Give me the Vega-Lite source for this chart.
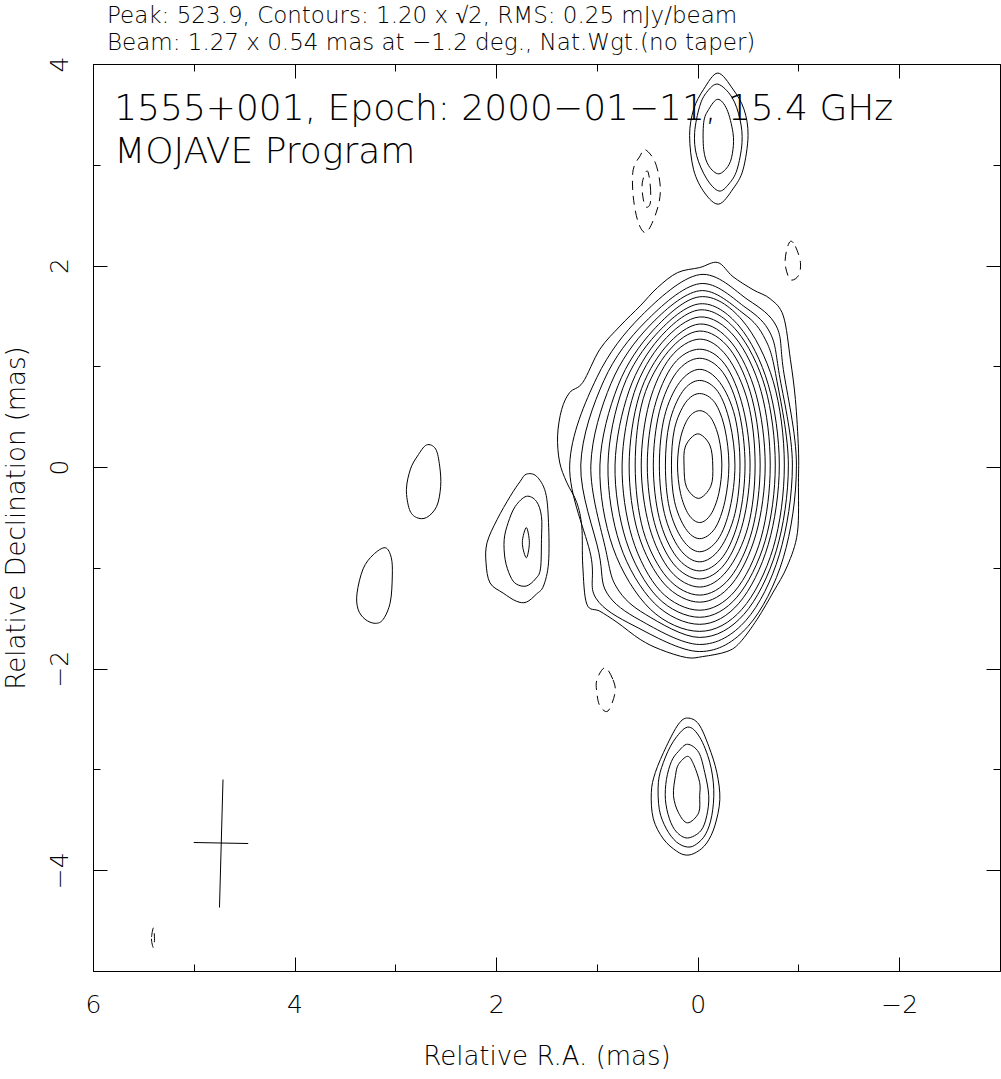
{
"$schema": "https://vega.github.io/schema/vega-lite/v6.json",
"width": 907, "height": 907,
"autosize": {"type": "none"},
"padding": {"left": 93, "top": 64, "right": 1, "bottom": 108},
"background": "white",
"config": {"view": {"stroke": "black", "strokeWidth": 1}, "font": "DejaVu Sans", "axis": {"grid": false, "domain": false, "tickColor": "black", "tickWidth": 1, "labelColor": "black", "titleColor": "black", "labelFlush": false, "labelOverlap": false}},
"title": {"text": ["Peak: 523.9, Contours: 1.20 x √2, RMS: 0.25 mJy/beam", "Beam: 1.27 x 0.54 mas at −1.2 deg., Nat.Wgt.(no taper)"], "anchor": "start", "frame": "group", "dx": 14, "offset": 1, "fontSize": 23, "fontWeight": 200, "lineHeight": 27, "color": "black", "font": "DejaVu Sans"},
"datasets": {
"pos": [
{"c":0,"o":0,"ra":-0.20,"dec":2.03},{"c":0,"o":1,"ra":-0.02,"dec":1.98},{"c":0,"o":2,"ra":0.20,"dec":1.93},{"c":0,"o":3,"ra":0.40,"dec":1.78},{"c":0,"o":4,"ra":0.57,"dec":1.60},{"c":0,"o":5,"ra":0.77,"dec":1.40},{"c":0,"o":6,"ra":0.97,"dec":1.17},{"c":0,"o":7,"ra":1.14,"dec":0.84},{"c":0,"o":8,"ra":1.27,"dec":0.74},{"c":0,"o":9,"ra":1.35,"dec":0.57},{"c":0,"o":10,"ra":1.39,"dec":0.31},{"c":0,"o":11,"ra":1.37,"dec":0.05},{"c":0,"o":12,"ra":1.30,"dec":-0.15},{"c":0,"o":13,"ra":1.20,"dec":-0.35},{"c":0,"o":14,"ra":1.15,"dec":-0.59},{"c":0,"o":15,"ra":1.14,"dec":-0.98},{"c":0,"o":16,"ra":1.10,"dec":-1.36},{"c":0,"o":17,"ra":0.97,"dec":-1.43},{"c":0,"o":18,"ra":0.80,"dec":-1.54},{"c":0,"o":19,"ra":0.57,"dec":-1.71},{"c":0,"o":20,"ra":0.37,"dec":-1.81},{"c":0,"o":21,"ra":0.11,"dec":-1.89},{"c":0,"o":22,"ra":-0.05,"dec":-1.88},{"c":0,"o":23,"ra":-0.29,"dec":-1.83},{"c":0,"o":24,"ra":-0.42,"dec":-1.74},{"c":0,"o":25,"ra":-0.59,"dec":-1.51},{"c":0,"o":26,"ra":-0.75,"dec":-1.24},{"c":0,"o":27,"ra":-0.89,"dec":-0.98},{"c":0,"o":28,"ra":-0.99,"dec":-0.65},{"c":0,"o":29,"ra":-1.00,"dec":-0.15},{"c":0,"o":30,"ra":-1.00,"dec":0.18},{"c":0,"o":31,"ra":-0.97,"dec":0.67},{"c":0,"o":32,"ra":-0.92,"dec":1.07},{"c":0,"o":33,"ra":-0.85,"dec":1.50},{"c":0,"o":34,"ra":-0.72,"dec":1.67},{"c":0,"o":35,"ra":-0.55,"dec":1.76},{"c":0,"o":36,"ra":-0.35,"dec":1.89},
{"c":1,"o":0,"ra":1.27,"dec":0.02},{"c":1,"o":1,"ra":1.00,"dec":0.89},{"c":1,"o":2,"ra":0.56,"dec":1.50},{"c":1,"o":3,"ra":-0.02,"dec":1.91},{"c":1,"o":4,"ra":-0.50,"dec":1.66},{"c":1,"o":5,"ra":-0.78,"dec":1.40},{"c":1,"o":6,"ra":-0.85,"dec":0.97},{"c":1,"o":7,"ra":-0.98,"dec":0.02},{"c":1,"o":8,"ra":-0.85,"dec":-0.90},{"c":1,"o":9,"ra":-0.50,"dec":-1.58},{"c":1,"o":10,"ra":-0.02,"dec":-1.83},{"c":1,"o":11,"ra":0.62,"dec":-1.58},{"c":1,"o":12,"ra":1.01,"dec":-1.30},{"c":1,"o":13,"ra":1.06,"dec":-0.88},
{"c":2,"o":0,"ra":1.16,"dec":0.02},{"c":2,"o":1,"ra":0.93,"dec":0.86},{"c":2,"o":2,"ra":0.52,"dec":1.44},{"c":2,"o":3,"ra":-0.02,"dec":1.82},{"c":2,"o":4,"ra":-0.48,"dec":1.58},{"c":2,"o":5,"ra":-0.72,"dec":1.33},{"c":2,"o":6,"ra":-0.81,"dec":0.92},{"c":2,"o":7,"ra":-0.94,"dec":0.02},{"c":2,"o":8,"ra":-0.81,"dec":-0.87},{"c":2,"o":9,"ra":-0.48,"dec":-1.52},{"c":2,"o":10,"ra":-0.02,"dec":-1.76},{"c":2,"o":11,"ra":0.57,"dec":-1.52},{"c":2,"o":12,"ra":0.90,"dec":-1.25},{"c":2,"o":13,"ra":0.98,"dec":-0.85},
{"c":3,"o":0,"ra":1.06,"dec":0.02},{"c":3,"o":1,"ra":0.86,"dec":0.83},{"c":3,"o":2,"ra":0.48,"dec":1.40},{"c":3,"o":3,"ra":-0.02,"dec":1.75},{"c":3,"o":4,"ra":-0.46,"dec":1.52},{"c":3,"o":5,"ra":-0.67,"dec":1.27},{"c":3,"o":6,"ra":-0.78,"dec":0.89},{"c":3,"o":7,"ra":-0.90,"dec":0.02},{"c":3,"o":8,"ra":-0.78,"dec":-0.83},{"c":3,"o":9,"ra":-0.46,"dec":-1.46},{"c":3,"o":10,"ra":-0.02,"dec":-1.69},{"c":3,"o":11,"ra":0.52,"dec":-1.46},{"c":3,"o":12,"ra":0.80,"dec":-1.20},{"c":3,"o":13,"ra":0.91,"dec":-0.83},
{"c":4,"o":0,"ra":0.97,"dec":0.02},{"c":4,"o":1,"ra":0.79,"dec":0.81},{"c":4,"o":2,"ra":0.44,"dec":1.36},{"c":4,"o":3,"ra":-0.02,"dec":1.69},{"c":4,"o":4,"ra":-0.44,"dec":1.46},{"c":4,"o":5,"ra":-0.75,"dec":0.85},{"c":4,"o":6,"ra":-0.86,"dec":0.02},{"c":4,"o":7,"ra":-0.75,"dec":-0.80},{"c":4,"o":8,"ra":-0.44,"dec":-1.41},{"c":4,"o":9,"ra":-0.02,"dec":-1.63},{"c":4,"o":10,"ra":0.47,"dec":-1.41},{"c":4,"o":11,"ra":0.84,"dec":-0.80},
{"c":5,"o":0,"ra":0.89,"dec":0.02},{"c":5,"o":1,"ra":0.74,"dec":0.79},{"c":5,"o":2,"ra":0.41,"dec":1.32},{"c":5,"o":3,"ra":-0.02,"dec":1.62},{"c":5,"o":4,"ra":-0.41,"dec":1.40},{"c":5,"o":5,"ra":-0.70,"dec":0.82},{"c":5,"o":6,"ra":-0.81,"dec":0.02},{"c":5,"o":7,"ra":-0.70,"dec":-0.77},{"c":5,"o":8,"ra":-0.41,"dec":-1.35},{"c":5,"o":9,"ra":-0.02,"dec":-1.56},{"c":5,"o":10,"ra":0.43,"dec":-1.35},{"c":5,"o":11,"ra":0.77,"dec":-0.77},
{"c":6,"o":0,"ra":0.82,"dec":0.02},{"c":6,"o":1,"ra":0.68,"dec":0.76},{"c":6,"o":2,"ra":0.38,"dec":1.28},{"c":6,"o":3,"ra":-0.02,"dec":1.56},{"c":6,"o":4,"ra":-0.39,"dec":1.35},{"c":6,"o":5,"ra":-0.67,"dec":0.79},{"c":6,"o":6,"ra":-0.77,"dec":0.02},{"c":6,"o":7,"ra":-0.67,"dec":-0.73},{"c":6,"o":8,"ra":-0.39,"dec":-1.29},{"c":6,"o":9,"ra":-0.02,"dec":-1.49},{"c":6,"o":10,"ra":0.40,"dec":-1.29},{"c":6,"o":11,"ra":0.71,"dec":-0.73},
{"c":7,"o":0,"ra":0.75,"dec":0.02},{"c":7,"o":1,"ra":0.63,"dec":0.74},{"c":7,"o":2,"ra":0.35,"dec":1.24},{"c":7,"o":3,"ra":-0.02,"dec":1.49},{"c":7,"o":4,"ra":-0.37,"dec":1.29},{"c":7,"o":5,"ra":-0.63,"dec":0.75},{"c":7,"o":6,"ra":-0.72,"dec":0.02},{"c":7,"o":7,"ra":-0.63,"dec":-0.70},{"c":7,"o":8,"ra":-0.37,"dec":-1.23},{"c":7,"o":9,"ra":-0.02,"dec":-1.42},{"c":7,"o":10,"ra":0.37,"dec":-1.23},{"c":7,"o":11,"ra":0.65,"dec":-0.70},
{"c":8,"o":0,"ra":0.68,"dec":0.02},{"c":8,"o":1,"ra":0.58,"dec":0.71},{"c":8,"o":2,"ra":0.32,"dec":1.19},{"c":8,"o":3,"ra":-0.02,"dec":1.42},{"c":8,"o":4,"ra":-0.34,"dec":1.23},{"c":8,"o":5,"ra":-0.58,"dec":0.72},{"c":8,"o":6,"ra":-0.67,"dec":0.02},{"c":8,"o":7,"ra":-0.58,"dec":-0.66},{"c":8,"o":8,"ra":-0.34,"dec":-1.16},{"c":8,"o":9,"ra":-0.02,"dec":-1.34},{"c":8,"o":10,"ra":0.33,"dec":-1.16},{"c":8,"o":11,"ra":0.59,"dec":-0.66},
{"c":9,"o":0,"ra":0.62,"dec":0.02},{"c":9,"o":1,"ra":0.54,"dec":0.68},{"c":9,"o":2,"ra":0.29,"dec":1.15},{"c":9,"o":3,"ra":-0.02,"dec":1.35},{"c":9,"o":4,"ra":-0.32,"dec":1.17},{"c":9,"o":5,"ra":-0.54,"dec":0.68},{"c":9,"o":6,"ra":-0.62,"dec":0.02},{"c":9,"o":7,"ra":-0.54,"dec":-0.63},{"c":9,"o":8,"ra":-0.32,"dec":-1.10},{"c":9,"o":9,"ra":-0.02,"dec":-1.27},{"c":9,"o":10,"ra":0.30,"dec":-1.10},{"c":9,"o":11,"ra":0.54,"dec":-0.63},
{"c":10,"o":0,"ra":0.56,"dec":0.02},{"c":10,"o":1,"ra":0.48,"dec":0.64},{"c":10,"o":2,"ra":0.27,"dec":1.09},{"c":10,"o":3,"ra":-0.02,"dec":1.27},{"c":10,"o":4,"ra":-0.29,"dec":1.10},{"c":10,"o":5,"ra":-0.50,"dec":0.64},{"c":10,"o":6,"ra":-0.57,"dec":0.02},{"c":10,"o":7,"ra":-0.50,"dec":-0.59},{"c":10,"o":8,"ra":-0.29,"dec":-1.03},{"c":10,"o":9,"ra":-0.02,"dec":-1.19},{"c":10,"o":10,"ra":0.27,"dec":-1.03},{"c":10,"o":11,"ra":0.48,"dec":-0.59},
{"c":11,"o":0,"ra":0.50,"dec":0.02},{"c":11,"o":1,"ra":0.43,"dec":0.59},{"c":11,"o":2,"ra":0.24,"dec":1.02},{"c":11,"o":3,"ra":-0.02,"dec":1.17},{"c":11,"o":4,"ra":-0.27,"dec":1.02},{"c":11,"o":5,"ra":-0.45,"dec":0.59},{"c":11,"o":6,"ra":-0.52,"dec":0.02},{"c":11,"o":7,"ra":-0.45,"dec":-0.55},{"c":11,"o":8,"ra":-0.27,"dec":-0.96},{"c":11,"o":9,"ra":-0.02,"dec":-1.11},{"c":11,"o":10,"ra":0.24,"dec":-0.96},{"c":11,"o":11,"ra":0.43,"dec":-0.55},
{"c":12,"o":0,"ra":0.44,"dec":0.02},{"c":12,"o":1,"ra":0.38,"dec":0.55},{"c":12,"o":2,"ra":0.21,"dec":0.94},{"c":12,"o":3,"ra":-0.02,"dec":1.08},{"c":12,"o":4,"ra":-0.25,"dec":0.94},{"c":12,"o":5,"ra":-0.41,"dec":0.55},{"c":12,"o":6,"ra":-0.47,"dec":0.02},{"c":12,"o":7,"ra":-0.41,"dec":-0.51},{"c":12,"o":8,"ra":-0.25,"dec":-0.89},{"c":12,"o":9,"ra":-0.02,"dec":-1.03},{"c":12,"o":10,"ra":0.21,"dec":-0.89},{"c":12,"o":11,"ra":0.38,"dec":-0.51},
{"c":13,"o":0,"ra":0.38,"dec":0.02},{"c":13,"o":1,"ra":0.33,"dec":0.50},{"c":13,"o":2,"ra":0.18,"dec":0.84},{"c":13,"o":3,"ra":-0.02,"dec":0.97},{"c":13,"o":4,"ra":-0.22,"dec":0.84},{"c":13,"o":5,"ra":-0.37,"dec":0.50},{"c":13,"o":6,"ra":-0.42,"dec":0.02},{"c":13,"o":7,"ra":-0.37,"dec":-0.46},{"c":13,"o":8,"ra":-0.22,"dec":-0.81},{"c":13,"o":9,"ra":-0.02,"dec":-0.94},{"c":13,"o":10,"ra":0.18,"dec":-0.81},{"c":13,"o":11,"ra":0.33,"dec":-0.46},
{"c":14,"o":0,"ra":0.32,"dec":0.02},{"c":14,"o":1,"ra":0.28,"dec":0.44},{"c":14,"o":2,"ra":0.15,"dec":0.75},{"c":14,"o":3,"ra":-0.02,"dec":0.86},{"c":14,"o":4,"ra":-0.20,"dec":0.75},{"c":14,"o":5,"ra":-0.32,"dec":0.44},{"c":14,"o":6,"ra":-0.37,"dec":0.02},{"c":14,"o":7,"ra":-0.32,"dec":-0.41},{"c":14,"o":8,"ra":-0.20,"dec":-0.72},{"c":14,"o":9,"ra":-0.02,"dec":-0.84},{"c":14,"o":10,"ra":0.15,"dec":-0.72},{"c":14,"o":11,"ra":0.28,"dec":-0.41},
{"c":15,"o":0,"ra":0.26,"dec":0.02},{"c":15,"o":1,"ra":0.23,"dec":0.38},{"c":15,"o":2,"ra":0.12,"dec":0.64},{"c":15,"o":3,"ra":-0.02,"dec":0.73},{"c":15,"o":4,"ra":-0.17,"dec":0.64},{"c":15,"o":5,"ra":-0.27,"dec":0.38},{"c":15,"o":6,"ra":-0.31,"dec":0.02},{"c":15,"o":7,"ra":-0.27,"dec":-0.34},{"c":15,"o":8,"ra":-0.17,"dec":-0.61},{"c":15,"o":9,"ra":-0.02,"dec":-0.71},{"c":15,"o":10,"ra":0.12,"dec":-0.61},{"c":15,"o":11,"ra":0.23,"dec":-0.34},
{"c":16,"o":0,"ra":0.20,"dec":0.02},{"c":16,"o":1,"ra":0.17,"dec":0.29},{"c":16,"o":2,"ra":0.09,"dec":0.49},{"c":16,"o":3,"ra":-0.02,"dec":0.56},{"c":16,"o":4,"ra":-0.13,"dec":0.49},{"c":16,"o":5,"ra":-0.21,"dec":0.29},{"c":16,"o":6,"ra":-0.24,"dec":0.02},{"c":16,"o":7,"ra":-0.21,"dec":-0.26},{"c":16,"o":8,"ra":-0.13,"dec":-0.47},{"c":16,"o":9,"ra":-0.02,"dec":-0.55},{"c":16,"o":10,"ra":0.09,"dec":-0.47},{"c":16,"o":11,"ra":0.17,"dec":-0.26},
{"c":17,"o":0,"ra":0.00,"dec":0.33},{"c":17,"o":1,"ra":0.12,"dec":0.21},{"c":17,"o":2,"ra":0.135,"dec":0.01},{"c":17,"o":3,"ra":0.11,"dec":-0.20},{"c":17,"o":4,"ra":-0.01,"dec":-0.31},{"c":17,"o":5,"ra":-0.13,"dec":-0.19},{"c":17,"o":6,"ra":-0.15,"dec":0.01},{"c":17,"o":7,"ra":-0.12,"dec":0.22},
{"c":20,"o":0,"ra":1.70,"dec":-0.07},{"c":20,"o":1,"ra":1.60,"dec":-0.09},{"c":20,"o":2,"ra":1.51,"dec":-0.25},{"c":20,"o":3,"ra":1.48,"dec":-0.55},{"c":20,"o":4,"ra":1.48,"dec":-0.95},{"c":20,"o":5,"ra":1.53,"dec":-1.18},{"c":20,"o":6,"ra":1.60,"dec":-1.26},{"c":20,"o":7,"ra":1.70,"dec":-1.34},{"c":20,"o":8,"ra":1.80,"dec":-1.33},{"c":20,"o":9,"ra":1.93,"dec":-1.25},{"c":20,"o":10,"ra":2.06,"dec":-1.15},{"c":20,"o":11,"ra":2.10,"dec":-0.95},{"c":20,"o":12,"ra":2.09,"dec":-0.75},{"c":20,"o":13,"ra":1.99,"dec":-0.52},{"c":20,"o":14,"ra":1.86,"dec":-0.29},{"c":20,"o":15,"ra":1.76,"dec":-0.14},
{"c":21,"o":0,"ra":1.70,"dec":-0.29},{"c":21,"o":1,"ra":1.60,"dec":-0.34},{"c":21,"o":2,"ra":1.55,"dec":-0.49},{"c":21,"o":3,"ra":1.55,"dec":-0.72},{"c":21,"o":4,"ra":1.56,"dec":-1.01},{"c":21,"o":5,"ra":1.61,"dec":-1.11},{"c":21,"o":6,"ra":1.70,"dec":-1.18},{"c":21,"o":7,"ra":1.80,"dec":-1.16},{"c":21,"o":8,"ra":1.86,"dec":-1.08},{"c":21,"o":9,"ra":1.91,"dec":-0.92},{"c":21,"o":10,"ra":1.92,"dec":-0.72},{"c":21,"o":11,"ra":1.88,"dec":-0.55},{"c":21,"o":12,"ra":1.81,"dec":-0.39},
{"c":22,"o":0,"ra":1.70,"dec":-0.60},{"c":22,"o":1,"ra":1.67,"dec":-0.75},{"c":22,"o":2,"ra":1.70,"dec":-0.90},{"c":22,"o":3,"ra":1.74,"dec":-0.75},
{"c":23,"o":0,"ra":2.69,"dec":0.22},{"c":23,"o":1,"ra":2.60,"dec":0.18},{"c":23,"o":2,"ra":2.56,"dec":0.01},{"c":23,"o":3,"ra":2.55,"dec":-0.19},{"c":23,"o":4,"ra":2.59,"dec":-0.39},{"c":23,"o":5,"ra":2.69,"dec":-0.50},{"c":23,"o":6,"ra":2.79,"dec":-0.50},{"c":23,"o":7,"ra":2.86,"dec":-0.42},{"c":23,"o":8,"ra":2.89,"dec":-0.22},{"c":23,"o":9,"ra":2.85,"dec":-0.02},{"c":23,"o":10,"ra":2.78,"dec":0.11},
{"c":24,"o":0,"ra":3.10,"dec":-0.80},{"c":24,"o":1,"ra":3.04,"dec":-0.90},{"c":24,"o":2,"ra":3.03,"dec":-1.08},{"c":24,"o":3,"ra":3.05,"dec":-1.34},{"c":24,"o":4,"ra":3.12,"dec":-1.51},{"c":24,"o":5,"ra":3.20,"dec":-1.55},{"c":24,"o":6,"ra":3.30,"dec":-1.51},{"c":24,"o":7,"ra":3.37,"dec":-1.41},{"c":24,"o":8,"ra":3.38,"dec":-1.25},{"c":24,"o":9,"ra":3.32,"dec":-1.01},{"c":24,"o":10,"ra":3.22,"dec":-0.87},
{"c":25,"o":0,"ra":-0.20,"dec":3.91},{"c":25,"o":1,"ra":-0.35,"dec":3.75},{"c":25,"o":2,"ra":-0.46,"dec":3.55},{"c":25,"o":3,"ra":-0.50,"dec":3.29},{"c":25,"o":4,"ra":-0.45,"dec":2.95},{"c":25,"o":5,"ra":-0.35,"dec":2.76},{"c":25,"o":6,"ra":-0.21,"dec":2.61},{"c":25,"o":7,"ra":-0.07,"dec":2.72},{"c":25,"o":8,"ra":0.04,"dec":2.95},{"c":25,"o":9,"ra":0.08,"dec":3.29},{"c":25,"o":10,"ra":0.04,"dec":3.55},{"c":25,"o":11,"ra":-0.06,"dec":3.75},
{"c":26,"o":0,"ra":-0.20,"dec":3.80},{"c":26,"o":1,"ra":-0.34,"dec":3.67},{"c":26,"o":2,"ra":-0.42,"dec":3.45},{"c":26,"o":3,"ra":-0.44,"dec":3.22},{"c":26,"o":4,"ra":-0.39,"dec":2.95},{"c":26,"o":5,"ra":-0.31,"dec":2.81},{"c":26,"o":6,"ra":-0.21,"dec":2.74},{"c":26,"o":7,"ra":-0.09,"dec":2.86},{"c":26,"o":8,"ra":0.01,"dec":3.09},{"c":26,"o":9,"ra":0.03,"dec":3.32},{"c":26,"o":10,"ra":-0.02,"dec":3.58},{"c":26,"o":11,"ra":-0.09,"dec":3.72},
{"c":27,"o":0,"ra":-0.20,"dec":3.65},{"c":27,"o":1,"ra":-0.29,"dec":3.55},{"c":27,"o":2,"ra":-0.35,"dec":3.32},{"c":27,"o":3,"ra":-0.35,"dec":3.15},{"c":27,"o":4,"ra":-0.31,"dec":3.00},{"c":27,"o":5,"ra":-0.21,"dec":2.91},{"c":27,"o":6,"ra":-0.11,"dec":2.99},{"c":27,"o":7,"ra":-0.06,"dec":3.15},{"c":27,"o":8,"ra":-0.06,"dec":3.42},{"c":27,"o":9,"ra":-0.11,"dec":3.55},
{"c":28,"o":0,"ra":0.10,"dec":-2.49},{"c":28,"o":1,"ra":-0.01,"dec":-2.55},{"c":28,"o":2,"ra":-0.11,"dec":-2.77},{"c":28,"o":3,"ra":-0.19,"dec":-3.03},{"c":28,"o":4,"ra":-0.22,"dec":-3.30},{"c":28,"o":5,"ra":-0.17,"dec":-3.56},{"c":28,"o":6,"ra":-0.09,"dec":-3.73},{"c":28,"o":7,"ra":0.01,"dec":-3.82},{"c":28,"o":8,"ra":0.11,"dec":-3.85},{"c":28,"o":9,"ra":0.21,"dec":-3.81},{"c":28,"o":10,"ra":0.34,"dec":-3.69},{"c":28,"o":11,"ra":0.44,"dec":-3.49},{"c":28,"o":12,"ra":0.46,"dec":-3.23},{"c":28,"o":13,"ra":0.42,"dec":-3.03},{"c":28,"o":14,"ra":0.31,"dec":-2.77},{"c":28,"o":15,"ra":0.19,"dec":-2.55},
{"c":29,"o":0,"ra":0.10,"dec":-2.58},{"c":29,"o":1,"ra":-0.02,"dec":-2.68},{"c":29,"o":2,"ra":-0.12,"dec":-2.93},{"c":29,"o":3,"ra":-0.16,"dec":-3.20},{"c":29,"o":4,"ra":-0.14,"dec":-3.46},{"c":29,"o":5,"ra":-0.08,"dec":-3.64},{"c":29,"o":6,"ra":0.01,"dec":-3.74},{"c":29,"o":7,"ra":0.10,"dec":-3.77},{"c":29,"o":8,"ra":0.21,"dec":-3.72},{"c":29,"o":9,"ra":0.31,"dec":-3.59},{"c":29,"o":10,"ra":0.38,"dec":-3.40},{"c":29,"o":11,"ra":0.39,"dec":-3.13},{"c":29,"o":12,"ra":0.34,"dec":-2.93},{"c":29,"o":13,"ra":0.24,"dec":-2.72},
{"c":30,"o":0,"ra":0.10,"dec":-2.75},{"c":30,"o":1,"ra":-0.01,"dec":-2.83},{"c":30,"o":2,"ra":-0.07,"dec":-3.03},{"c":30,"o":3,"ra":-0.11,"dec":-3.26},{"c":30,"o":4,"ra":-0.09,"dec":-3.46},{"c":30,"o":5,"ra":-0.03,"dec":-3.61},{"c":30,"o":6,"ra":0.10,"dec":-3.68},{"c":30,"o":7,"ra":0.21,"dec":-3.62},{"c":30,"o":8,"ra":0.28,"dec":-3.49},{"c":30,"o":9,"ra":0.32,"dec":-3.30},{"c":30,"o":10,"ra":0.31,"dec":-3.10},{"c":30,"o":11,"ra":0.26,"dec":-2.92},{"c":30,"o":12,"ra":0.19,"dec":-2.82},
{"c":31,"o":0,"ra":0.10,"dec":-2.87},{"c":31,"o":1,"ra":0.04,"dec":-2.95},{"c":31,"o":2,"ra":-0.02,"dec":-3.13},{"c":31,"o":3,"ra":-0.02,"dec":-3.26},{"c":31,"o":4,"ra":-0.01,"dec":-3.43},{"c":31,"o":5,"ra":0.10,"dec":-3.53},{"c":31,"o":6,"ra":0.19,"dec":-3.43},{"c":31,"o":7,"ra":0.24,"dec":-3.26},{"c":31,"o":8,"ra":0.22,"dec":-3.06},{"c":31,"o":9,"ra":0.19,"dec":-2.95}
],
"neg": [
{"c":1,"o":0,"ra":0.52,"dec":3.15},{"c":1,"o":1,"ra":0.42,"dec":3.02},{"c":1,"o":2,"ra":0.37,"dec":2.76},{"c":1,"o":3,"ra":0.41,"dec":2.53},{"c":1,"o":4,"ra":0.51,"dec":2.33},{"c":1,"o":5,"ra":0.59,"dec":2.43},{"c":1,"o":6,"ra":0.64,"dec":2.69},{"c":1,"o":7,"ra":0.64,"dec":2.95},{"c":1,"o":8,"ra":0.57,"dec":3.09},
{"c":2,"o":0,"ra":0.50,"dec":2.94},{"c":2,"o":1,"ra":0.47,"dec":2.79},{"c":2,"o":2,"ra":0.47,"dec":2.62},{"c":2,"o":3,"ra":0.51,"dec":2.58},{"c":2,"o":4,"ra":0.54,"dec":2.66},{"c":2,"o":5,"ra":0.55,"dec":2.82},
{"c":3,"o":0,"ra":-0.92,"dec":2.24},{"c":3,"o":1,"ra":-0.97,"dec":2.19},{"c":3,"o":2,"ra":-1.02,"dec":2.03},{"c":3,"o":3,"ra":-1.00,"dec":1.90},{"c":3,"o":4,"ra":-0.92,"dec":1.86},{"c":3,"o":5,"ra":-0.87,"dec":2.00},{"c":3,"o":6,"ra":-0.88,"dec":2.14},
{"c":4,"o":0,"ra":0.92,"dec":-1.99},{"c":4,"o":1,"ra":0.84,"dec":-2.11},{"c":4,"o":2,"ra":0.82,"dec":-2.24},{"c":4,"o":3,"ra":0.89,"dec":-2.42},{"c":4,"o":4,"ra":0.97,"dec":-2.37},{"c":4,"o":5,"ra":1.00,"dec":-2.24},{"c":4,"o":6,"ra":1.00,"dec":-2.11},
{"c":5,"o":0,"ra":5.40,"dec":-4.57},{"c":5,"o":1,"ra":5.42,"dec":-4.68},{"c":5,"o":2,"ra":5.40,"dec":-4.77},{"c":5,"o":3,"ra":5.39,"dec":-4.68}
],
"beam": [
{"c":1,"o":0,"ra":4.71,"dec":-3.10},{"c":1,"o":1,"ra":4.745,"dec":-4.37},
{"c":2,"o":0,"ra":5.00,"dec":-3.725},{"c":2,"o":1,"ra":4.46,"dec":-3.735}
],
"lab": [
{"ra":5.79,"dec":3.44,"t":"1555+001, Epoch: 2000−01−11, 15.4 GHz"},
{"ra":5.79,"dec":3.02,"t":"MOJAVE Program"}
]
},
"resolve": {"axis": {"x": "independent", "y": "independent"}},
"layer": [
{
"data": {"name": "pos"},
"mark": {"type": "line", "interpolate": "cardinal-closed", "stroke": "black", "strokeWidth": 1},
"encoding": {
"x": {"field": "ra", "type": "quantitative", "scale": {"domain": [-3, 6], "reverse": true, "nice": false, "zero": false},
 "axis": {"orient": "bottom", "values": [-2, 0, 2, 4, 6], "tickSize": -14, "labelFontSize": 25, "labelFontWeight": 200, "labelPadding": 35, "title": "Relative R.A. (mas)", "titleFontSize": 26, "titleFontWeight": 200, "titlePadding": 26}},
"y": {"field": "dec", "type": "quantitative", "scale": {"domain": [-5, 4], "nice": false, "zero": false},
 "axis": {"orient": "left", "values": [-4, -2, 0, 2, 4], "tickSize": -14, "labelFontSize": 25, "labelFontWeight": 200, "labelAngle": 270, "labelAlign": "center", "labelBaseline": "bottom", "labelPadding": 35, "title": "Relative Declination (mas)", "titleFontSize": 26, "titleFontWeight": 200, "titlePadding": 18}},
"detail": {"field": "c", "type": "nominal"},
"order": {"field": "o", "type": "quantitative"}
}
},
{
"data": {"name": "neg"},
"mark": {"type": "line", "interpolate": "cardinal-closed", "stroke": "black", "strokeWidth": 1, "strokeDash": [9, 6]},
"encoding": {
"x": {"field": "ra", "type": "quantitative", "scale": {"domain": [-3, 6], "reverse": true, "nice": false, "zero": false},
 "axis": {"orient": "top", "values": [-2, 0, 2, 4, 6], "tickSize": -14, "labels": false, "title": null}},
"y": {"field": "dec", "type": "quantitative", "scale": {"domain": [-5, 4], "nice": false, "zero": false},
 "axis": {"orient": "right", "values": [-4, -2, 0, 2, 4], "tickSize": -14, "labels": false, "title": null}},
"detail": {"field": "c", "type": "nominal"},
"order": {"field": "o", "type": "quantitative"}
}
},
{
"data": {"name": "beam"},
"mark": {"type": "line", "stroke": "black", "strokeWidth": 1},
"encoding": {
"x": {"field": "ra", "type": "quantitative", "scale": {"domain": [-3, 6], "reverse": true, "nice": false, "zero": false},
 "axis": {"orient": "bottom", "values": [-3, -2, -1, 0, 1, 2, 3, 4, 5, 6], "tickSize": -7, "labels": false, "title": null}},
"y": {"field": "dec", "type": "quantitative", "scale": {"domain": [-5, 4], "nice": false, "zero": false},
 "axis": {"orient": "left", "values": [-5, -4, -3, -2, -1, 0, 1, 2, 3, 4], "tickSize": -7, "labels": false, "title": null}},
"detail": {"field": "c", "type": "nominal"},
"order": {"field": "o", "type": "quantitative"}
}
},
{
"data": {"name": "lab"},
"mark": {"type": "text", "align": "left", "baseline": "alphabetic", "fontSize": 36, "fontWeight": 200, "font": "DejaVu Sans", "color": "black"},
"encoding": {
"x": {"field": "ra", "type": "quantitative", "scale": {"domain": [-3, 6], "reverse": true, "nice": false, "zero": false},
 "axis": {"orient": "top", "values": [-3, -2, -1, 0, 1, 2, 3, 4, 5, 6], "tickSize": -7, "labels": false, "title": null}},
"y": {"field": "dec", "type": "quantitative", "scale": {"domain": [-5, 4], "nice": false, "zero": false},
 "axis": {"orient": "right", "values": [-5, -4, -3, -2, -1, 0, 1, 2, 3, 4], "tickSize": -7, "labels": false, "title": null}},
"text": {"field": "t", "type": "nominal"}
}
}
]
}
